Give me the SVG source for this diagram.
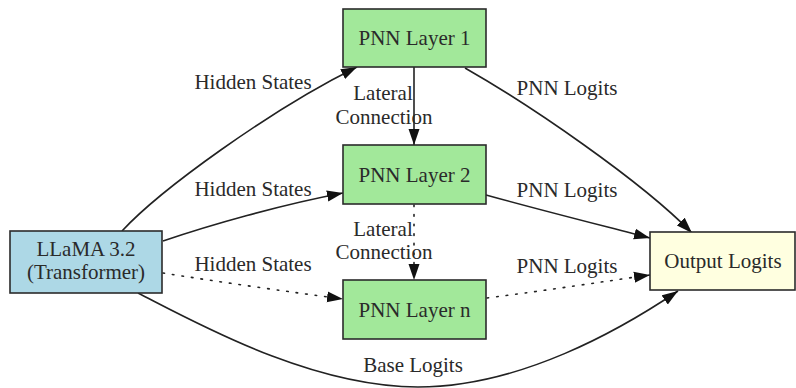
<svg xmlns="http://www.w3.org/2000/svg" width="796" height="388" viewBox="0 0 796 388">
<defs>
<style>
.node{stroke:#2b2b2b;stroke-width:1.6}
.llama{fill:#add8e6}
.pnn{fill:#a2e89a}
.out{fill:#ffffe0}
text{font-family:"Liberation Serif","Times New Roman",serif;font-size:21px;fill:#2a2a2a;text-anchor:middle}
.edge{fill:none;stroke:#222;stroke-width:1.6}
.dot{stroke-dasharray:1.6 8;stroke-linecap:round}
</style>
<marker id="ah" markerUnits="userSpaceOnUse" markerWidth="17" markerHeight="12" refX="16" refY="6" orient="auto">
<path d="M0,0.5 L16,6 L0,11.5 z" fill="#111"/>
</marker>
</defs>
<rect width="796" height="388" fill="#fff"/>
<g id="connectors">
<path class="edge" d="M122,231 C160,190 270,110 357,67" marker-end="url(#ah)"/>
<path class="edge" d="M163,241 C210,225 280,205 343,193" marker-end="url(#ah)"/>
<path class="edge dot" d="M163,273 C220,282 290,292 343,299" marker-end="url(#ah)"/>
<path class="edge" d="M414,67 L414,145" marker-end="url(#ah)"/>
<path class="edge dot" d="M414,205 L414,280" marker-end="url(#ah)"/>
<path class="edge" d="M465,68 C530,105 640,180 692,233" marker-end="url(#ah)"/>
<path class="edge" d="M486,195 C540,210 600,225 650,238" marker-end="url(#ah)"/>
<path class="edge dot" d="M487,298 C550,290 600,282 650,275" marker-end="url(#ah)"/>
<path class="edge" d="M138,293 C195,322 310,387 418,387 C520,387 620,330 678,291" marker-end="url(#ah)"/>
<text x="253" y="89">Hidden States</text>
<text x="253" y="196">Hidden States</text>
<text x="253" y="271">Hidden States</text>
<text x="383" y="100">Lateral</text>
<text x="384" y="124">Connection</text>
<text x="383" y="236">Lateral</text>
<text x="384" y="259">Connection</text>
<text x="567" y="95">PNN Logits</text>
<text x="567" y="197">PNN Logits</text>
<text x="567" y="273">PNN Logits</text>
<text x="413" y="372">Base Logits</text>
</g>
<g id="llama">
<rect class="node llama" x="10" y="231" width="152" height="62"/>
<text x="86" y="256">LLaMA 3.2</text>
<text x="86" y="279">(Transformer)</text>
</g>
<g id="pnn1">
<rect class="node pnn" x="343" y="9" width="143" height="58"/>
<text x="414.5" y="45">PNN Layer 1</text>
</g>
<g id="pnn2">
<rect class="node pnn" x="343" y="145" width="143" height="59"/>
<text x="414.5" y="182">PNN Layer 2</text>
</g>
<g id="pnnn">
<rect class="node pnn" x="343" y="280" width="143" height="59"/>
<text x="414.5" y="317">PNN Layer n</text>
</g>
<g id="output">
<rect class="node out" x="650" y="232" width="145" height="58"/>
<text x="723" y="268">Output Logits</text>
</g>
</svg>
